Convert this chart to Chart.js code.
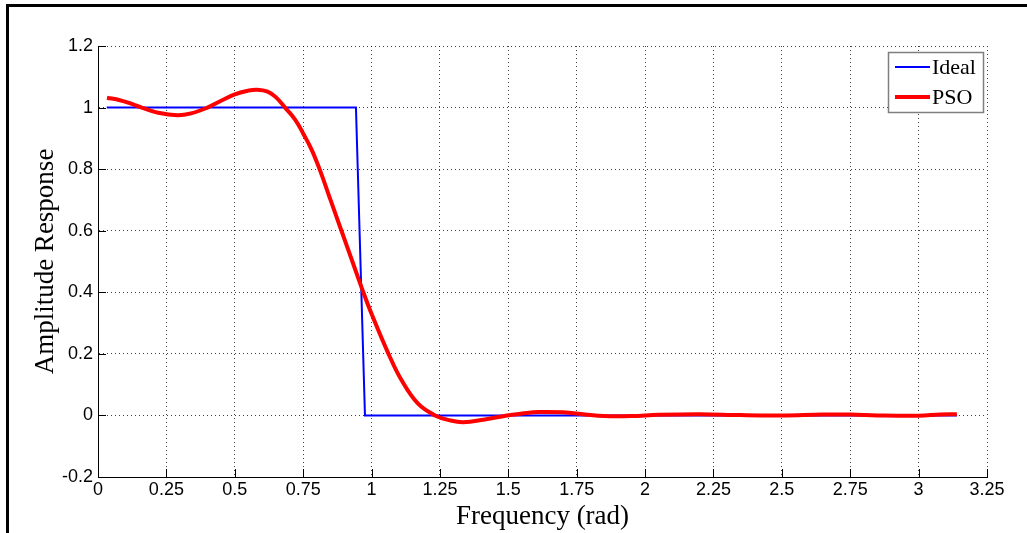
<!DOCTYPE html>
<html>
<head>
<meta charset="utf-8">
<script src="https://cdn.jsdelivr.net/npm/chart.js"></script>
<style>
    html, body { margin: 0; padding: 0; background: #fff; overflow: hidden; }
    #wrap { position: relative; width: 1027px; height: 533px; }
    #frame {
        position: absolute; left: 6px; top: 4px; width: 2000px; height: 2000px;
        border-left: 3px solid #000; border-top: 3px solid #000; pointer-events: none;
    }
</style>
</head>
<body>
<div id="wrap">
    <canvas id="ampChart" width="1027" height="533"></canvas>
    <div id="frame"></div>
</div>
<script>
// ideal low-pass response
const idealFreq = [0.032, 0.943, 0.976, 3.14];
const idealAmp = [1, 1, 0, 0];

// PSO designed filter response
const psoFreq = [0.033, 0.08, 0.11, 0.16, 0.22, 0.29, 0.34, 0.40, 0.45, 0.50, 0.55, 0.58, 0.62, 0.65, 0.684, 0.72, 0.75,
    0.78, 0.81, 0.85, 0.89, 0.93, 0.97, 1.0, 1.062, 1.11, 1.17, 1.232, 1.287, 1.335, 1.409, 1.495, 1.55, 1.61, 1.70,
    1.78, 1.85, 1.95, 2.05, 2.2, 2.35, 2.5, 2.65, 2.75, 2.85, 3.0, 3.08, 3.14];
const psoAmp = [1.032, 1.024, 1.016, 1.0, 0.983, 0.975, 0.981, 1.0, 1.022, 1.043, 1.055, 1.058, 1.052, 1.034, 1.0, 0.962, 0.916,
    0.865, 0.8, 0.7, 0.6, 0.5, 0.4, 0.33, 0.2, 0.114, 0.038, 0.0, -0.016, -0.022, -0.014, 0.0, 0.006, 0.011, 0.01,
    0.003, -0.002, -0.002, 0.002, 0.004, 0.001, 0.0, 0.003, 0.003, 0.0, -0.001, 0.003, 0.004];

const xTicks = [0, 0.25, 0.5, 0.75, 1, 1.25, 1.5, 1.75, 2, 2.25, 2.5, 2.75, 3, 3.25];
const xTickLabels = ['0', '0.25', '0.5', '0.75', '1', '1.25', '1.5', '1.75', '2', '2.25', '2.5', '2.75', '3', '3.25'];
const yTicks = [-0.2, 0, 0.2, 0.4, 0.6, 0.8, 1, 1.2];
const yTickLabels = ['-0.2', '0', '0.2', '0.4', '0.6', '0.8', '1', '1.2'];

const tickFont = { family: 'Liberation Sans, Arial, sans-serif', size: 18 };
const serif = 'Liberation Serif, Times New Roman, serif';

// matlab style ticks pointing into the axes
const innerTicks = {
    id: 'innerTicks',
    afterDatasetsDraw(chart) {
        const ctx = chart.ctx;
        const area = chart.chartArea;
        const xs = chart.scales.x, ys = chart.scales.y;
        ctx.save();
        ctx.strokeStyle = '#000';
        ctx.lineWidth = 1;
        ctx.beginPath();
        xTicks.forEach(v => {
            const px = Math.round(xs.getPixelForValue(v)) + 0.5;
            ctx.moveTo(px, area.bottom);
            ctx.lineTo(px, area.bottom - 8);
        });
        yTicks.forEach(v => {
            const py = Math.round(ys.getPixelForValue(v)) + 0.5;
            ctx.moveTo(area.left, py);
            ctx.lineTo(area.left + 8, py);
        });
        ctx.stroke();
        ctx.restore();
    }
};

// legend box in the upper right corner
const boxLegend = {
    id: 'boxLegend',
    afterDraw(chart) {
        const ctx = chart.ctx;
        const left = 888, top = 52, w = 95, h = 60;
        ctx.save();
        ctx.fillStyle = '#fff';
        ctx.fillRect(left, top, w, h);
        ctx.strokeStyle = '#7f7f7f';
        ctx.lineWidth = 1.5;
        ctx.strokeRect(left + 0.5, top + 0.5, w, h);
        ctx.font = '22px ' + serif;
        ctx.textBaseline = 'middle';
        ctx.fillStyle = '#000';
        const rows = [chart.data.datasets[0], chart.data.datasets[1]];
        rows.forEach((ds, i) => {
            const y = top + 15 + i * 30;
            ctx.strokeStyle = ds.borderColor;
            ctx.lineWidth = ds.borderWidth;
            ctx.beginPath();
            ctx.moveTo(left + 7, y);
            ctx.lineTo(left + 42, y);
            ctx.stroke();
            ctx.fillText(ds.label, left + 44, y + 1);
        });
        ctx.restore();
    }
};

new Chart(document.getElementById('ampChart'), {
    type: 'line',
    data: {
        datasets: [{
            label: 'Ideal',
            data: idealFreq.map((x, i) => ({ x: x, y: idealAmp[i] })),
            borderColor: '#0000ff',
            borderWidth: 2,
            pointRadius: 0,
            fill: false,
            tension: 0,
            order: 1
        }, {
            label: 'PSO',
            data: psoFreq.map((x, i) => ({ x: x, y: psoAmp[i] })),
            borderColor: '#ff0000',
            borderWidth: 4,
            pointRadius: 0,
            fill: false,
            tension: 0.4,
            order: 0
        }]
    },
    options: {
        responsive: false,
        animation: false,
        devicePixelRatio: 1,
        layout: { padding: { top: 46, right: 40, left: 0, bottom: 0 } },
        plugins: {
            legend: { display: false },
            tooltip: { enabled: false }
        },
        scales: {
            x: {
                type: 'linear',
                min: 0,
                max: 3.25,
                afterBuildTicks: scale => { scale.ticks = xTicks.map(v => ({ value: v })); },
                afterFit: scale => { scale.height = 56; },
                ticks: {
                    autoSkip: false,
                    maxRotation: 0,
                    padding: 2,
                    color: '#000',
                    font: tickFont,
                    callback: (v) => xTickLabels[xTicks.indexOf(v)]
                },
                grid: { color: 'rgba(0,0,0,0.75)', lineWidth: 1, drawTicks: false },
                border: { display: true, color: '#000', width: 1, dash: [1, 3] },
                title: {
                    display: true,
                    text: 'Frequency (rad)',
                    color: '#000',
                    font: { family: serif, size: 27 },
                    padding: { top: 0, bottom: 0 }
                }
            },
            y: {
                type: 'linear',
                min: -0.2,
                max: 1.2,
                afterBuildTicks: scale => { scale.ticks = yTicks.map(v => ({ value: v })); },
                afterFit: scale => { scale.width = 98; },
                ticks: {
                    autoSkip: false,
                    padding: 5,
                    color: '#000',
                    font: tickFont,
                    callback: (v) => yTickLabels[yTicks.indexOf(v)]
                },
                grid: { color: 'rgba(0,0,0,0.75)', lineWidth: 1, drawTicks: false },
                border: { display: true, color: '#000', width: 1, dash: [1, 3] },
                title: {
                    display: true,
                    text: 'Amplitude Response',
                    color: '#000',
                    font: { family: serif, size: 27 },
                    padding: { top: 30, bottom: 0 }
                }
            }
        }
    },
    plugins: [innerTicks, boxLegend]
});
</script>
</body>
</html>
